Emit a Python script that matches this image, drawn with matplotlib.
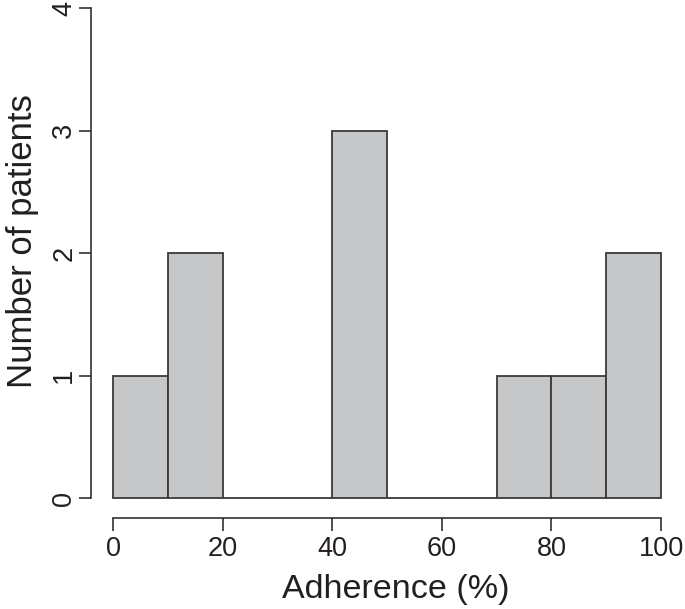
import matplotlib
matplotlib.use("Agg")
import matplotlib.pyplot as plt

# histogram of adherence, 10% bins
bin_edges = [0, 10, 20, 30, 40, 50, 60, 70, 80, 90, 100]
counts = [1, 2, 0, 0, 3, 0, 0, 1, 1, 2]
x_ticks = [0, 20, 40, 60, 80, 100]
y_ticks = [0, 1, 2, 3, 4]

plt.rcParams["font.family"] = ["Liberation Sans", "DejaVu Sans"]
ink = "#231f20"

fig = plt.figure(figsize=(6.85, 6.09), dpi=100)
ax = fig.add_axes([0.133, 0.150, 0.864, 0.869])

lefts = bin_edges[:-1]
widths = [b - a for a, b in zip(bin_edges[:-1], bin_edges[1:])]
ax.bar(lefts, counts, width=widths, align="edge", color="#c6c7c9",
       edgecolor="#3a3a3a", linewidth=1.3)

ax.set_xlim(-4, 104)
ax.set_ylim(-0.16, 4.16)

for side in ("top", "right"):
    ax.spines[side].set_visible(False)
ax.spines["left"].set_bounds(0, 4)
ax.spines["bottom"].set_bounds(0, 100)
for side in ("left", "bottom"):
    ax.spines[side].set_color(ink)
    ax.spines[side].set_linewidth(1.1)

ax.set_xticks(x_ticks)
ax.set_yticks(y_ticks)
ax.set_yticklabels([str(v) for v in y_ticks], rotation=90, va="center")
ax.tick_params(axis="both", direction="out", length=9, width=1.1,
               color=ink, labelcolor=ink, labelsize=19.5)
ax.tick_params(axis="x", pad=4)
ax.tick_params(axis="y", pad=1)

ax.set_xlabel("Adherence (%)", fontsize=24.5, color=ink, labelpad=9)
ax.set_ylabel("Number of patients", fontsize=25, color=ink, labelpad=9)
# R centres the labels a little off the axes centre
ax.xaxis.label.set_x(0.515)
ax.yaxis.label.set_y(0.523)

fig.savefig("out.png", dpi=100)
